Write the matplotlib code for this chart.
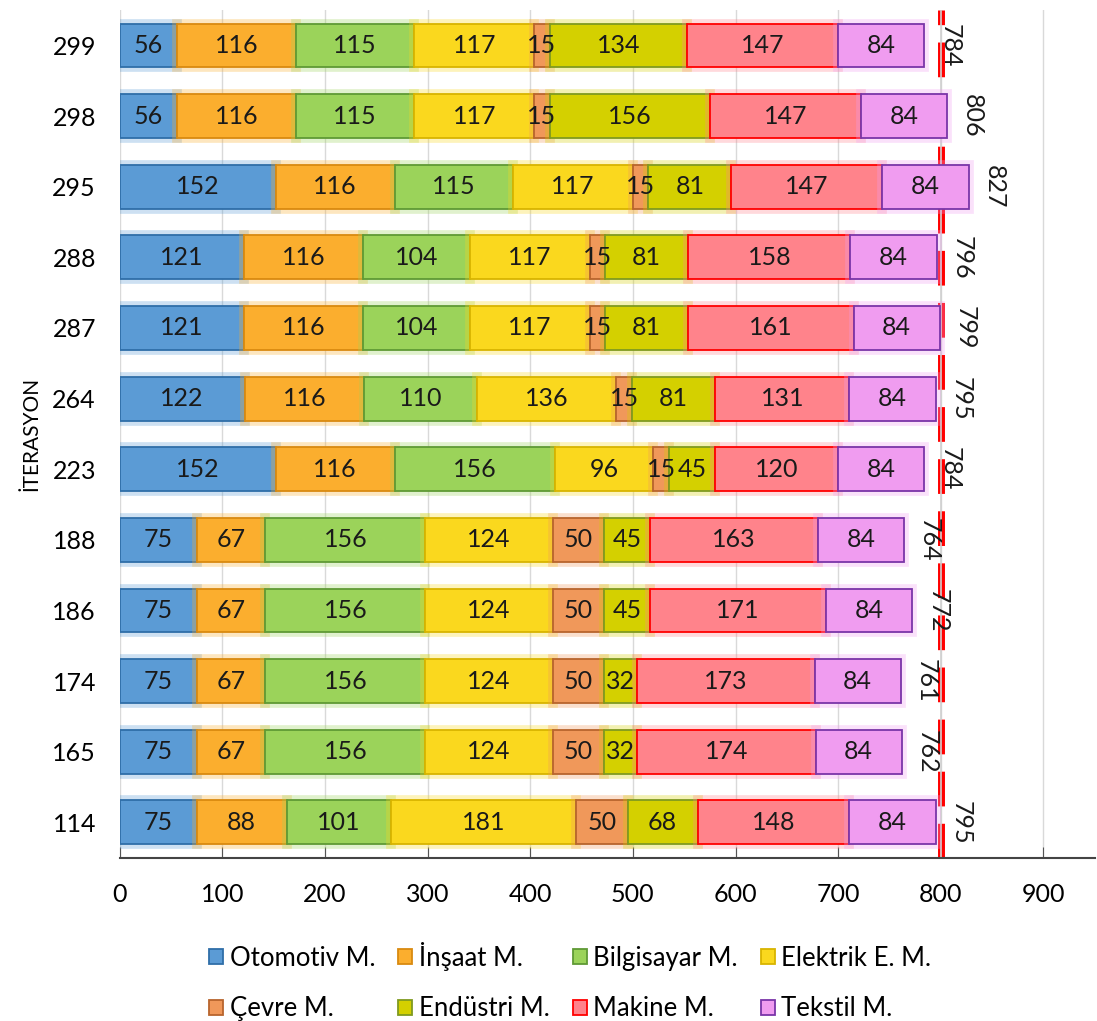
import matplotlib.pyplot as plt
import matplotlib.patheffects as pe
import numpy as np

plt.rcParams['font.family'] = ['Lato', 'DejaVu Sans']

iterations = ["299", "298", "295", "288", "287", "264", "223", "188", "186", "174", "165", "114"]
departments = ["Otomotiv M.", "İnşaat M.", "Bilgisayar M.", "Elektrik E. M.",
               "Çevre M.", "Endüstri M.", "Makine M.", "Tekstil M."]

otomotiv = [56, 56, 152, 121, 121, 122, 152, 75, 75, 75, 75, 75]
insaat = [116, 116, 116, 116, 116, 116, 116, 67, 67, 67, 67, 88]
bilgisayar = [115, 115, 115, 104, 104, 110, 156, 156, 156, 156, 156, 101]
elektrik = [117, 117, 117, 117, 117, 136, 96, 124, 124, 124, 124, 181]
cevre = [15, 15, 15, 15, 15, 15, 15, 50, 50, 50, 50, 50]
endustri = [134, 156, 81, 81, 81, 81, 45, 45, 45, 32, 32, 68]
makine = [147, 147, 147, 158, 161, 131, 120, 163, 171, 173, 174, 148]
tekstil = [84, 84, 84, 84, 84, 84, 84, 84, 84, 84, 84, 84]

limit = 800

series = [otomotiv, insaat, bilgisayar, elektrik, cevre, endustri, makine, tekstil]
fills = ["#5B9BD5", "#FBAE2E", "#9BD35A", "#FAD81E", "#F0985A", "#D4D000", "#FF838B", "#F09CF0"]
edges = ["#2F6EA8", "#D98A10", "#5F9A35", "#D8B400", "#B8652D", "#7F9A20", "#FF0000", "#7A35A8"]

fig, ax = plt.subplots(figsize=(10.97, 10.21), dpi=100)
fig.subplots_adjust(left=0.109, right=0.998, top=0.99, bottom=0.16)

y = np.arange(len(iterations))
left = np.zeros(len(iterations))
for name, vals, fc, ec in zip(departments, series, fills, edges):
    vals = np.array(vals)
    bars = ax.barh(y, vals, left=left, height=0.62, color=fc, edgecolor=ec,
                   linewidth=1.3, label=name, zorder=3)
    for b in bars:
        b.set_path_effects([pe.Stroke(linewidth=7, foreground=fc, alpha=0.3), pe.Normal()])
    for yi, l, v in zip(y, left, vals):
        ax.text(l + v / 2, yi, str(v), ha="center", va="center", fontsize=18,
                color="#1a1a1a", zorder=5)
    left = left + vals

for yi, tot in zip(y, left):
    ax.text(tot + 25, yi, str(int(tot)), rotation=270, ha="center", va="center",
            fontsize=18, color="#1a1a1a", zorder=5)

# limit line: red dashes with the grid line showing through
ax.axvline(limit, color="red", linewidth=5, dashes=(5, 2.5), zorder=2)
ax.axvline(limit, color="#d0d0d0", linewidth=1.2, zorder=2.1)

ax.set_xlim(0, 950)
ax.set_ylim(11.5, -0.5)
ax.set_yticks(y)
ax.set_yticklabels(iterations, fontsize=18)
ax.set_xticks(np.arange(0, 901, 100))
ax.tick_params(axis="x", labelsize=18, direction="in", length=8, color="#555555", pad=18)
ax.tick_params(axis="y", length=0, pad=17)
ax.grid(axis="x", color="#d9d9d9", linewidth=1, zorder=0)
ax.set_axisbelow(True)
for s in ["top", "right", "left"]:
    ax.spines[s].set_visible(False)
ax.spines["bottom"].set_color("#444444")
ax.spines["bottom"].set_linewidth(1.5)
ax.set_ylabel("İTERASYON", fontsize=15, labelpad=8)

handles, labels = ax.get_legend_handles_labels()
order = [0, 4, 1, 5, 2, 6, 3, 7]
leg = ax.legend([handles[i] for i in order], [labels[i] for i in order], ncol=4,
                loc="upper center", bbox_to_anchor=(0.462, -0.072),
                frameon=False, fontsize=18.5, handlelength=0.55, handleheight=0.55,
                handletextpad=0.25, columnspacing=0.9, labelspacing=1.0)
for h in leg.legend_handles:
    h.set_path_effects([])

fig.savefig("out.png", dpi=100)
